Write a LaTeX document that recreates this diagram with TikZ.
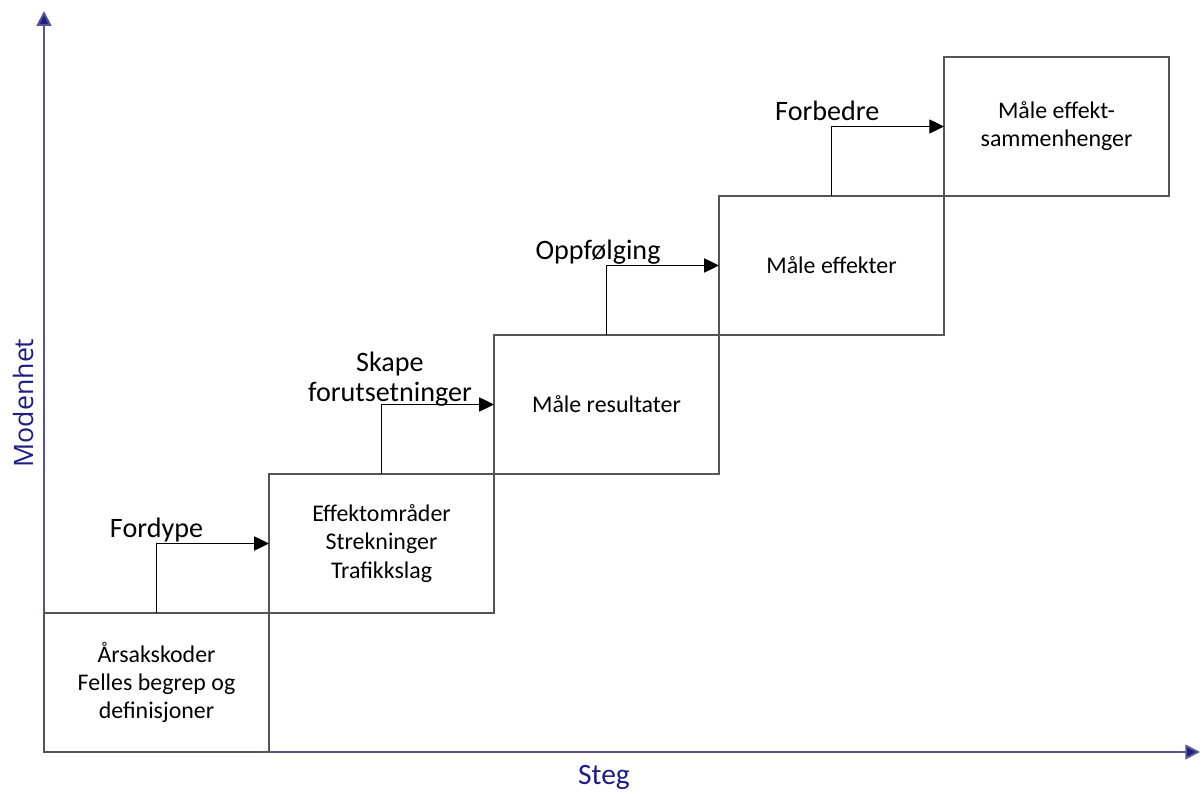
\documentclass[tikz,border=0pt]{standalone}
\usepackage{fontspec}
\setmainfont{Carlito}
\newfontfamily\axisfont{Open Sans}
\usetikzlibrary{arrows.meta,positioning}

\definecolor{axisnavy}{RGB}{30,30,130}
\definecolor{axisline}{RGB}{85,85,150}
\definecolor{boxgrey}{RGB}{85,85,85}

\begin{document}
\begin{tikzpicture}[
    every node/.style={font=\fontsize{17}{20}\selectfont},
    stepbox/.style={draw=boxgrey, line width=1pt, minimum width=5.625cm,
      minimum height=3.475cm, inner sep=0pt, outer sep=0pt, align=center},
    steparrow/.style={-{Triangle[length=10.5pt,width=10pt]}, line width=1pt},
    flowlabel/.style={font=\fontsize{20}{21}\selectfont, anchor=south,
      inner sep=0pt, text depth=0.22em, yshift=1.5pt, align=center},
    axisarrow/.style={draw=axisline, line width=1.4pt,
      -{Triangle[length=10.5pt,width=10.5pt,fill=axisnavy]}},
    axislabel/.style={text=axisnavy}
  ]
  \useasboundingbox (0,0) rectangle (30.075,19.825);

  % axes
  \coordinate (origin) at (1.1,1.025);
  \coordinate (xend) at (30.0,1.025);
  \coordinate (yend) at (1.1,19.55);
  \draw[axisarrow] (origin) -- (xend);
  \draw[axisarrow] (origin) -- (yend);
  \node[axislabel, rotate=90, font=\axisfont\fontsize{19}{22}\selectfont] (modenhet) at (0.575,9.75) {Modenhet};
  \node[axislabel, font=\fontsize{21}{24}\selectfont] (steg) at (15.1,0.4) {Steg};

  % the steps
  \node[stepbox, anchor=south west] (arsak) at (origin)
    {Årsakskoder\\Felles begrep og\\definisjoner};
  \node[stepbox, above right=0pt and 0pt of arsak.north east] (omrade)
    {Effektområder\\Strekninger\\Trafikkslag};
  \node[stepbox, above right=0pt and 0pt of omrade.north east] (resultat)
    {Måle resultater};
  \node[stepbox, above right=0pt and 0pt of resultat.north east] (effekt)
    {Måle effekter};
  \node[stepbox, above right=0pt and 0pt of effekt.north east] (sammenheng)
    {Måle effekt-\\sammenhenger};

  % arrows between the steps
  \draw[steparrow] (arsak.north) |- node[flowlabel] {Fordype} (omrade.west);
  \draw[steparrow] (omrade.north) |- node[flowlabel, xshift=6pt, yshift=-2pt] {Skape\\forutsetninger} (resultat.west);
  \draw[steparrow] (resultat.north) |- node[flowlabel, xshift=-6pt] {Oppfølging} (effekt.west);
  \draw[steparrow] (effekt.north) |- node[flowlabel, xshift=-3pt] {Forbedre} (sammenheng.west);
\end{tikzpicture}
\end{document}
